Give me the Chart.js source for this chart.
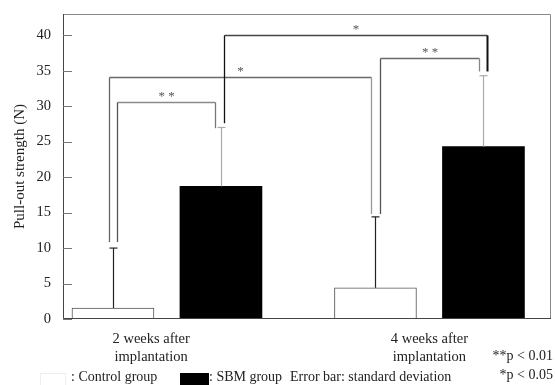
<!DOCTYPE html>
<html><head><meta charset="utf-8">
<script src="https://cdn.jsdelivr.net/npm/chart.js@4/dist/chart.umd.min.js"></script>
<style>html,body{margin:0;padding:0;background:#fff}#wrap{width:555px;height:385px}</style>
</head><body><div id="wrap"><canvas id="c" width="555" height="385"></canvas></div>
<script>
// ---- data ----
const categories = [["2 weeks after", "implantation"], ["4 weeks after", "implantation"]];
const seriesNames = ["Control group", "SBM group"];
const controlMean = [1.55, 4.4];
const controlSD = [8.45, 10.0];
const sbmMean = [18.7, 24.3];
const sbmSD = [8.3, 10.0];
const yTicks = [0, 5, 10, 15, 20, 25, 30, 35, 40];
const yTitle = "Pull-out strength (N)";
// significance brackets: [series, group] endpoints, bracket level, end levels, label
const bracketFrom = [[0, 0], [0, 0], [1, 0], [0, 1]];
const bracketTo = [[1, 0], [0, 1], [1, 1], [1, 1]];
const bracketLevel = [30.6, 34.1, 40.0, 36.8];
const bracketFromEnd = [10.85, 10.85, 27.6, 14.8];
const bracketToEnd = [26.9, 14.8, 34.9, 34.9];
const bracketLabel = ["* *", "*", "*", "* *"];
const pNotes = ["**p < 0.01", "*p < 0.05"];
const errorNote = "Error bar: standard deviation";

// ---- layout / style ----
const FONT = "'Liberation Serif', 'Times New Roman', serif";
const barOffset = 0.2057;          // bar centre offset from group centre (group units)
const labelShift = [-0.06, 0];     // x-label shift (group units)
const bracketDx = [[4, -6], [-4, -4.5], [3, 4], [4.5, -4]]; // px offsets of bracket legs
const bracketColor = ["#8a8a8a", "#6a6a6a", "#444", "#6a6a6a"];
const legColor = [["#555", "#777"], ["#666", "#999"], ["#111", "#111"], ["#555", "#888"]];

const ds = (means, side, bg, border) => ({
  label: seriesNames[side],
  data: means.map((v, i) => ({x: i + (side ? barOffset : -barOffset), y: v})),
  backgroundColor: bg, borderColor: border, borderWidth: side ? 0 : 1,
  barThickness: 82, grouped: false
});

const overlay = {
  id: 'overlay',
  afterDatasetsDraw(chart) {
    const ctx = chart.ctx, a = chart.chartArea, y = chart.scales.y;
    const barX = (s, g) => chart.getDatasetMeta(s).data[g].x;
    ctx.save();
    // frame
    ctx.lineWidth = 1;
    ctx.strokeStyle = '#888';
    ctx.beginPath();
    ctx.moveTo(a.left, a.top + 0.5); ctx.lineTo(a.right - 0.5, a.top + 0.5); ctx.lineTo(a.right - 0.5, a.bottom);
    ctx.stroke();
    ctx.strokeStyle = '#444';
    ctx.beginPath();
    ctx.moveTo(a.left + 0.5, a.top); ctx.lineTo(a.left + 0.5, a.bottom - 0.5); ctx.lineTo(a.right, a.bottom - 0.5);
    ctx.stroke();
    // inner y tick marks
    ctx.strokeStyle = '#777';
    yTicks.forEach(t => {
      const py = Math.round(y.getPixelForValue(t)) + 0.5;
      ctx.beginPath(); ctx.moveTo(a.left, py); ctx.lineTo(a.left + 9, py); ctx.stroke();
    });
    // error bars
    const sets = [[controlMean, controlSD, '#222'], [sbmMean, sbmSD, '#aaa']];
    sets.forEach(([m, sd, col], s) => {
      m.forEach((v, g) => {
        const px = Math.round(barX(s, g)) + 0.5;
        const top = y.getPixelForValue(v + sd[g]);
        ctx.strokeStyle = col; ctx.lineWidth = 1.2;
        ctx.beginPath(); ctx.moveTo(px, y.getPixelForValue(v)); ctx.lineTo(px, top); ctx.stroke();
        ctx.beginPath(); ctx.moveTo(px - 4, top); ctx.lineTo(px + 4, top); ctx.stroke();
      });
    });
    // brackets
    bracketLevel.forEach((lv, k) => {
      const x1 = Math.round(barX(bracketFrom[k][0], bracketFrom[k][1]) + bracketDx[k][0]) + 0.5;
      const x2 = Math.round(barX(bracketTo[k][0], bracketTo[k][1]) + bracketDx[k][1]) + 0.5;
      const py = Math.round(y.getPixelForValue(lv)) + 0.5;
      ctx.lineWidth = 1.3;
      ctx.strokeStyle = bracketColor[k];
      ctx.beginPath(); ctx.moveTo(x1, py); ctx.lineTo(x2, py); ctx.stroke();
      ctx.strokeStyle = legColor[k][0];
      ctx.beginPath(); ctx.moveTo(x1, py); ctx.lineTo(x1, y.getPixelForValue(bracketFromEnd[k])); ctx.stroke();
      ctx.strokeStyle = legColor[k][1];
      ctx.lineWidth = k === 2 ? 2 : 1.3;
      ctx.beginPath(); ctx.moveTo(x2, py); ctx.lineTo(x2, y.getPixelForValue(bracketToEnd[k])); ctx.stroke();
      ctx.fillStyle = '#555';
      ctx.font = '13px ' + FONT;
      ctx.textAlign = 'center'; ctx.textBaseline = 'middle';
      ctx.fillText(bracketLabel[k], (x1 + x2) / 2, py - 6);
    });
    // legend / notes
    ctx.font = '14px ' + FONT;
    ctx.textBaseline = 'middle'; ctx.textAlign = 'left';
    ctx.fillStyle = '#fff'; ctx.strokeStyle = '#eee'; ctx.lineWidth = 1;
    ctx.fillRect(40, 373, 26, 12); ctx.strokeRect(40.5, 373.5, 25, 12);
    ctx.fillStyle = '#000';
    ctx.fillRect(180, 373, 29, 12);
    ctx.fillStyle = '#222';
    ctx.fillText(': ' + seriesNames[0], 71, 377);
    ctx.fillText(': ' + seriesNames[1], 209, 377);
    ctx.fillText(errorNote, 290, 377);
    ctx.textAlign = 'right';
    ctx.fillText(pNotes[0], 553, 356);
    ctx.fillText(pNotes[1], 553, 375);
    ctx.restore();
  }
};

new Chart(document.getElementById('c'), {
  type: 'bar',
  data: {datasets: [ds(controlMean, 0, '#fff', '#555'), ds(sbmMean, 1, '#000', '#000')]},
  options: {
    responsive: false, animation: false,
    layout: {padding: {top: 14, right: 4, left: 0, bottom: 0}},
    plugins: {legend: {display: false}, tooltip: {enabled: false}},
    scales: {
      x: {
        type: 'linear', offset: false, min: -0.396, max: 1.463,
        grid: {display: false}, border: {display: false},
        afterFit: s => { s.height = 66; s.paddingLeft = 0; s.paddingRight = 0; s.paddingTop = 0; s.paddingBottom = 0; },
        afterBuildTicks: s => { s.ticks = categories.map((c, i) => ({value: i + labelShift[i]})); },
        ticks: {
          autoSkip: false, maxRotation: 0, padding: 3, color: '#222',
          font: {family: FONT, size: 14.5, lineHeight: 1.24},
          callback: (v, i) => categories[i]
        }
      },
      y: {
        min: 0, max: 43,
        grid: {display: false, drawTicks: false}, border: {display: false},
        afterFit: s => { s.width = 63; s.paddingTop = 0; s.paddingBottom = 0; s.paddingLeft = 0; s.paddingRight = 0; },
        afterBuildTicks: s => { s.ticks = yTicks.map(v => ({value: v})); },
        ticks: {padding: 12, color: '#222', font: {family: FONT, size: 14.5}},
        title: {display: true, text: yTitle, color: '#222', font: {family: FONT, size: 15}, padding: {top: 11, bottom: 0}}
      }
    }
  },
  plugins: [overlay]
});
</script></body></html>
